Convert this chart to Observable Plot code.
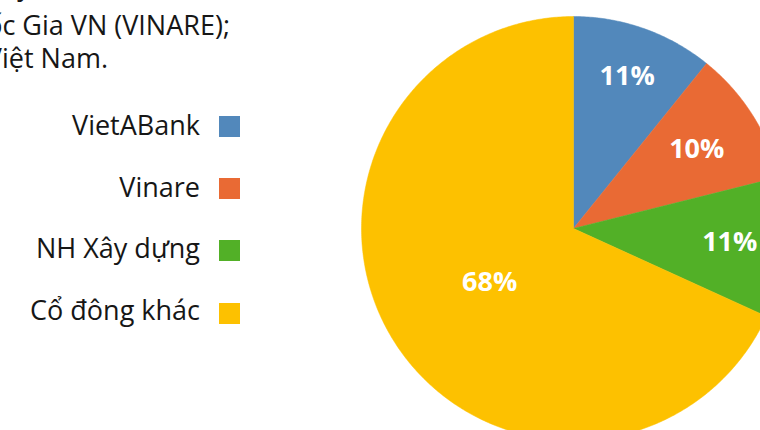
<!DOCTYPE html>
<html>
<head>
<meta charset="utf-8">
<script src="https://cdn.jsdelivr.net/npm/d3@7"></script>
<script src="https://cdn.jsdelivr.net/npm/@observablehq/plot@0.6"></script>
<style>
  html, body { margin: 0; padding: 0; background: #fff; overflow: hidden; }
  #wrap { position: relative; width: 760px; height: 430px; overflow: hidden; font-family: "Open Sans", sans-serif; color: #161616; }
  #chart { position: absolute; left: 0; top: 0; }
  .line { position: absolute; white-space: nowrap; font-size: 27px; line-height: 1; text-align: right; }
  .leg { position: absolute; right: 560px; white-space: nowrap; font-size: 27px; line-height: 1; }
  .sw { position: absolute; left: 219px; width: 21px; height: 21px; }
</style>
</head>
<body>
<div id="wrap">
  <div id="chart"></div>
</div>
<script>
// ---- data ----
const categories = ["VietABank", "Vinare", "NH Xây dựng", "Cổ đông khác"];
const shares = [10.8, 10.3, 10.7, 68.2];
const colors = ["#5288bb", "#e96a34", "#52b027", "#fdc100"];
const introLines = [
  "Cổ đông lớn: Ngân hàng TMCP Việt Á; Tổng Công ty CP Tái bảo hiểm",
  "Quốc Gia VN (VINARE);",
  "Ngân hàng TMCP Xây dựng Việt Nam."
];

// ---- layout config (label distance from centre, as a fraction of radius) ----
const labelRadius = [0.76, 0.69, 0.74, 0.47];

// ---- build slices ----
const pie = d3.pie().sort(null).value(d => d.value)(
  categories.map((name, i) => ({name, value: shares[i]}))
);
const poly = [];
pie.forEach(s => {
  const name = s.data.name;
  poly.push({name, x: 0, y: 0});
  const n = Math.max(2, Math.ceil((s.endAngle - s.startAngle) / 0.01));
  for (let k = 0; k <= n; k++) {
    const a = s.startAngle + (s.endAngle - s.startAngle) * k / n;
    poly.push({name, x: Math.sin(a), y: Math.cos(a)});
  }
  poly.push({name, x: 0, y: 0});
});
const labels = pie.map((s, i) => {
  const a = (s.startAngle + s.endAngle) / 2;
  const r = labelRadius[i];
  return {x: r * Math.sin(a), y: r * Math.cos(a), text: Math.round(s.data.value) + "%"};
});

const cx = 573, cy = 228, R = 212;
const plot = Plot.plot({
  width: 760,
  height: 430,
  margin: 0,
  style: {background: "transparent", overflow: "hidden"},
  x: {domain: [-1, 1], range: [cx - R, cx + R], axis: null},
  y: {domain: [-1, 1], range: [cy + R, cy - R], axis: null},
  color: {domain: categories, range: colors},
  marks: [
    Plot.line(poly, {x: "x", y: "y", z: "name", fill: "name", stroke: "name", strokeWidth: 0.5, curve: "linear"}),
    Plot.text(labels, {x: "x", y: "y", text: "text", fill: "white", fontSize: 27, fontWeight: "bold", fontFamily: "Open Sans"})
  ]
});
document.getElementById("chart").appendChild(plot);

// ---- intro text (cropped at top-left) ----
const wrap = document.getElementById("wrap");
const lineTops = [-29, 11, 44];
const lineRights = [240, 230, 108];
introLines.forEach((t, i) => {
  const d = document.createElement("div");
  d.className = "line";
  d.textContent = t;
  d.style.top = lineTops[i] + "px";
  d.style.right = (760 - lineRights[i]) + "px";
  wrap.appendChild(d);
});

// ---- legend ----
const legTops = [116, 178, 240, 303];
const legTextTops = [111, 173, 234, 296];
categories.forEach((c, i) => {
  const t = document.createElement("div");
  t.className = "leg";
  t.textContent = c;
  t.style.top = legTextTops[i] + "px";
  wrap.appendChild(t);
  const s = document.createElement("div");
  s.className = "sw";
  s.style.top = legTops[i] + "px";
  s.style.background = colors[i];
  wrap.appendChild(s);
});
</script>
</body>
</html>
